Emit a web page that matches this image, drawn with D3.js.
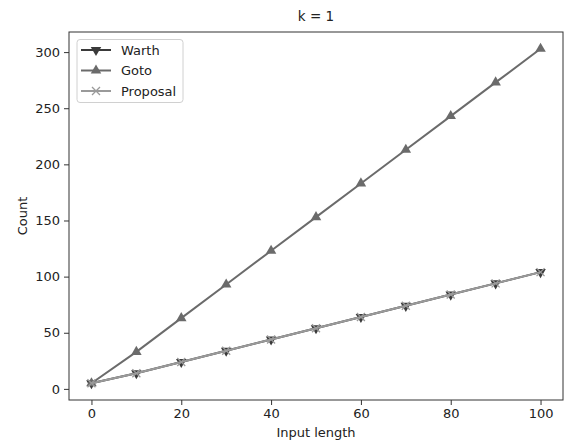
<!DOCTYPE html>
<html><head><meta charset="utf-8">
<script src="https://cdn.jsdelivr.net/npm/d3@7"></script>
<style>body{margin:0;background:#fff}svg{display:block}text{font-family:"DejaVu Sans",sans-serif;fill:#222}</style>
</head><body>
<svg id="c" width="564" height="441"></svg>
<script>
const inputLength = [0,10,20,30,40,50,60,70,80,90,100];
const warth = [5,14,24,34,44,54,64,74,84,94,104];
const goto_ = [5,33,63,93,123,153,183,213,243,273,303];
const proposal = [5,14,24,34,44,54,64,74,84,94,104];
const xTicks = [0,20,40,60,80,100];
const yTicks = [0,50,100,150,200,250,300];
const title = "k = 1", xLabel = "Input length", yLabel = "Count";

const FONT = '"DejaVu Sans",sans-serif';
const svg = d3.select("#c");
const L = 69, R = 563, T = 32, B = 400;
const x = d3.scaleLinear().domain([-5,105]).range([L,R]);
const y = d3.scaleLinear().domain([-9.9,317.9]).range([B,T]);

const series = [
  {name:"Warth", vals:warth, color:"#3a3a3a", sym:"down"},
  {name:"Goto", vals:goto_, color:"#6b6b6b", sym:"up"},
  {name:"Proposal", vals:proposal, color:"#9a9a9a", sym:"x"}
];

function marker(g, sym, color, cx, cy){
  if(sym==="x"){
    const s=4;
    g.append("path").attr("d",`M${cx-s},${cy-s}L${cx+s},${cy+s}M${cx-s},${cy+s}L${cx+s},${cy-s}`)
     .attr("stroke",color).attr("stroke-width",1.3).attr("fill","none");
  } else {
    const p = d3.symbol().type(d3.symbolTriangle).size(48)();
    g.append("path").attr("d",p).attr("fill",color)
     .attr("transform",`translate(${cx},${cy})${sym==="down"?" rotate(180)":""}`);
  }
}

const xAxis = d3.axisBottom(x).tickValues(xTicks).tickSize(5).tickPadding(4);
const yAxis = d3.axisLeft(y).tickValues(yTicks).tickSize(5).tickPadding(4);
const gx = svg.append("g").attr("transform",`translate(0,${B})`).call(xAxis);
const gy = svg.append("g").attr("transform",`translate(${L},0)`).call(yAxis);
[gx,gy].forEach(g=>{g.select(".domain").remove();g.selectAll("line").attr("stroke","#333");g.selectAll("text").attr("font-size",13).style("fill","#222").attr("font-family",FONT);});

const plot = svg.append("g");
const line = d3.line().x((d,i)=>x(inputLength[i])).y(d=>y(d));
series.forEach(s=>{
  plot.append("path").datum(s.vals).attr("d",line).attr("fill","none").attr("stroke",s.color).attr("stroke-width",2);
  s.vals.forEach((v,i)=>marker(plot,s.sym,s.color,x(inputLength[i]),y(v)));
});

svg.append("rect").attr("x",L).attr("y",T).attr("width",R-L).attr("height",B-T).attr("fill","none").attr("stroke","#333").attr("stroke-width",1);

svg.append("text").attr("x",(L+R)/2).attr("y",21).attr("text-anchor","middle").attr("font-size",13.5).text(title);
svg.append("text").attr("x",(L+R)/2).attr("y",437).attr("text-anchor","middle").attr("font-size",13).text(xLabel);
svg.append("text").attr("transform",`translate(27,${(T+B)/2}) rotate(-90)`).attr("text-anchor","middle").attr("font-size",13).text(yLabel);

const lg = svg.append("g");
lg.append("rect").attr("x",77).attr("y",39.5).attr("width",106).attr("height",63).attr("rx",3)
  .attr("fill","#fff").attr("fill-opacity",0.8).attr("stroke","#d0d0d0");
series.forEach((s,i)=>{
  const cy = 50 + i*20.5;
  lg.append("line").attr("x1",81).attr("x2",111).attr("y1",cy).attr("y2",cy).attr("stroke",s.color).attr("stroke-width",2);
  marker(lg,s.sym,s.color,96,cy);
  lg.append("text").attr("x",121).attr("y",cy+4.5).attr("font-size",13).text(s.name);
});
</script>
</body></html>
